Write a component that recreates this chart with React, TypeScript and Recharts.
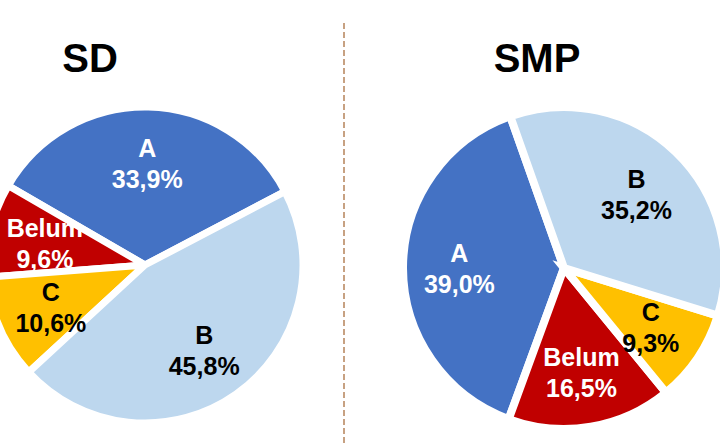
import { PieChart, Pie, Cell } from "recharts";

const categories = ["A", "Belum", "C", "B"];
const sdValues = [33.9, 9.6, 10.6, 45.8];
const smpValues = [39.0, 16.5, 9.3, 35.2];
const sliceColors = ["#4472C4", "#C00000", "#FFC000", "#BDD7EE"];
const labelColors = ["#ffffff", "#ffffff", "#000000", "#000000"];

const FONT = "'Liberation Sans', Arial, sans-serif";
const RADIAN = Math.PI / 180;

const toRows = (values: number[]) =>
  categories.map((name, i) => ({ name, value: values[i] }));

const fmt = (v: number) => v.toFixed(1).replace(".", ",") + "%";

// two-line label (name + percent) inside each slice
function SliceLabel(props: any) {
  const { cx, cy, midAngle, outerRadius, index, value } = props;
  const r = outerRadius * 0.65;
  const x = cx + r * Math.cos(-midAngle * RADIAN);
  const y = cy + r * Math.sin(-midAngle * RADIAN);
  return (
    <text
      x={x}
      y={y}
      textAnchor="middle"
      fill={labelColors[index]}
      fontFamily={FONT}
      fontWeight="bold"
      fontSize={25}
    >
      <tspan x={x} dy={-5}>{categories[index]}</tspan>
      <tspan x={x} dy={31}>{fmt(value)}</tspan>
    </text>
  );
}

export default function App() {
  return (
    <div style={{ position: "absolute", left: 0, top: 0, width: 720, height: 445, background: "#fff", overflow: "hidden" }}>
      <PieChart width={720} height={445} margin={{ top: 0, right: 0, bottom: 0, left: 0 }}>
        <Pie
          data={toRows(sdValues)}
          dataKey="value"
          nameKey="name"
          cx={145}
          cy={265}
          outerRadius={158}
          startAngle={27.7}
          endAngle={387.7}
          stroke="#ffffff"
          strokeWidth={7}
          labelLine={false}
          label={SliceLabel}
          isAnimationActive={false}
        >
          {categories.map((c, i) => (
            <Cell key={c} fill={sliceColors[i]} />
          ))}
        </Pie>
        <Pie
          data={toRows(smpValues)}
          dataKey="value"
          nameKey="name"
          cx={564}
          cy={268}
          outerRadius={161}
          startAngle={109.5}
          endAngle={469.5}
          stroke="#ffffff"
          strokeWidth={8}
          labelLine={false}
          label={SliceLabel}
          isAnimationActive={false}
        >
          {categories.map((c, i) => (
            <Cell key={c} fill={sliceColors[i]} />
          ))}
        </Pie>
      </PieChart>

      {/* titles and the dashed divider */}
      <svg width={720} height={445} style={{ position: "absolute", left: 0, top: 0, pointerEvents: "none" }}>
        <line x1={344} y1={23} x2={344} y2={445} stroke="#B5835A" strokeWidth={1.5} strokeDasharray="6 3" />
        <text x={90} y={72} textAnchor="middle" fontFamily={FONT} fontWeight="bold" fontSize={40} fill="#000">
          SD
        </text>
        <text x={537} y={72} textAnchor="middle" fontFamily={FONT} fontWeight="bold" fontSize={40} fill="#000">
          SMP
        </text>
      </svg>
    </div>
  );
}
